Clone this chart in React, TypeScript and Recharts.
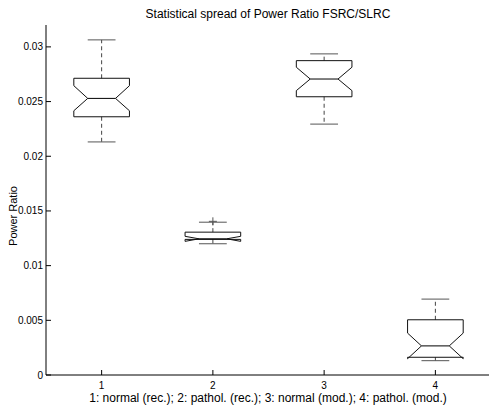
import React from 'react';
import { ComposedChart, Line, Scatter, XAxis, YAxis } from 'recharts';

const categories = [1, 2, 3, 4];
const upperWhisker = [0.03064, 0.01397, 0.02936, 0.00694];
const q3 = [0.02713, 0.01306, 0.02874, 0.00505];
const notchHi = [0.02645, 0.01268, 0.02814, 0.00383];
const median = [0.02529, 0.01245, 0.02706, 0.00266];
const notchLo = [0.02416, 0.01222, 0.02600, 0.00149];
const q1 = [0.02361, 0.01240, 0.02544, 0.00162];
const lowerWhisker = [0.02131, 0.01200, 0.02294, 0.00131];
const outliers = [{ x: 2, y: 0.01405 }];

const yTicks = [0, 0.005, 0.01, 0.015, 0.02, 0.025, 0.03];
const xTicks = [1, 2, 3, 4];

const HALF = 0.25;
const INNER = 0.125;
const CAP = 0.125;

type Pt = { x: number; y: number | null };

const boxes: Pt[] = [];
const medians: Pt[] = [];
const whiskers: Pt[] = [];
const caps: Pt[] = [];
categories.forEach((c, i) => {
    const l = c - HALF, r = c + HALF;
    boxes.push(
        { x: l, y: q1[i] }, { x: l, y: notchLo[i] }, { x: c - INNER, y: median[i] },
        { x: l, y: notchHi[i] }, { x: l, y: q3[i] }, { x: r, y: q3[i] },
        { x: r, y: notchHi[i] }, { x: c + INNER, y: median[i] }, { x: r, y: notchLo[i] },
        { x: r, y: q1[i] }, { x: l, y: q1[i] }, { x: c, y: null },
    );
    medians.push({ x: c - INNER, y: median[i] }, { x: c + INNER, y: median[i] }, { x: c, y: null });
    whiskers.push(
        { x: c, y: q3[i] }, { x: c, y: upperWhisker[i] }, { x: c, y: null },
        { x: c, y: q1[i] }, { x: c, y: lowerWhisker[i] }, { x: c, y: null },
    );
    caps.push(
        { x: c - CAP, y: upperWhisker[i] }, { x: c + CAP, y: upperWhisker[i] }, { x: c, y: null },
        { x: c - CAP, y: lowerWhisker[i] }, { x: c + CAP, y: lowerWhisker[i] }, { x: c, y: null },
    );
});

const FONT = '"Liberation Sans", Arial, sans-serif';

function LeftTick(props: any) {
    const { x, y, payload } = props;
    return (
        <g>
            <line x1={x} x2={x + 5} y1={y} y2={y} stroke="#000" />
            <text x={x - 3} y={y} textAnchor="end" dominantBaseline="central" fontSize={10} fontFamily={FONT} fill="#000">
                {payload.value}
            </text>
        </g>
    );
}

function BottomTick(props: any) {
    const { x, y, payload } = props;
    return (
        <g>
            <line x1={x} x2={x} y1={y} y2={y - 5} stroke="#000" />
            <text x={x} y={y + 10} textAnchor="middle" dominantBaseline="central" fontSize={10} fontFamily={FONT} fill="#000">
                {payload.value}
            </text>
        </g>
    );
}

function TopTick(props: any) {
    const { x, y } = props;
    return <line x1={x} x2={x} y1={y} y2={y + 5} stroke="#000" />;
}

function RightTick(props: any) {
    const { x, y } = props;
    return <line x1={x} x2={x - 5} y1={y} y2={y} stroke="#000" />;
}

function Plus(props: any) {
    const { cx, cy } = props;
    return (
        <g stroke="#555">
            <line x1={cx - 4} x2={cx + 4} y1={cy} y2={cy} />
            <line x1={cx} x2={cx} y1={cy - 4} y2={cy + 4} />
        </g>
    );
}

export default function App() {
    return (
        <div style={{ position: 'absolute', left: 0, top: 0, width: 489, height: 405, overflow: 'hidden', background: '#fff' }}>
            <ComposedChart width={491} height={405} margin={{ top: 25, right: 0, bottom: 0, left: 0 }}>
                <XAxis xAxisId={0} type="number" dataKey="x" domain={[0.5, 4.5]} ticks={xTicks} allowDataOverflow
                    height={30} tickSize={0} tickMargin={0} tick={<BottomTick />} axisLine={{ stroke: '#000' }} />
                <XAxis xAxisId="top" orientation="top" type="number" dataKey="x" domain={[0.5, 4.5]} ticks={xTicks} allowDataOverflow
                    height={0} tickSize={0} tickMargin={0} tick={<TopTick />} axisLine={{ stroke: '#000' }} />
                <YAxis yAxisId={0} type="number" domain={[0, 0.032]} ticks={yTicks} allowDataOverflow
                    width={46} tickSize={0} tickMargin={0} tick={<LeftTick />} axisLine={{ stroke: '#000' }} />
                <YAxis yAxisId="right" orientation="right" type="number" domain={[0, 0.032]} ticks={yTicks} allowDataOverflow
                    width={0} tickSize={0} tickMargin={0} tick={<RightTick />} axisLine={{ stroke: '#000' }} />
                <Line data={whiskers} dataKey="y" stroke="#444" strokeDasharray="4 3" strokeWidth={1} dot={false} activeDot={false} isAnimationActive={false} type="linear" />
                <Line data={caps} dataKey="y" stroke="#555" strokeWidth={1} dot={false} activeDot={false} isAnimationActive={false} type="linear" />
                <Line data={boxes} dataKey="y" stroke="#111" strokeWidth={1} dot={false} activeDot={false} isAnimationActive={false} type="linear" />
                <Line data={medians} dataKey="y" stroke="#000" strokeWidth={1} dot={false} activeDot={false} isAnimationActive={false} type="linear" />
                <Scatter data={outliers} dataKey="y" shape={<Plus />} isAnimationActive={false} />
            </ComposedChart>
            <svg width={489} height={405} style={{ position: 'absolute', left: 0, top: 0, pointerEvents: 'none' }}>
                <text x={268} y={14} textAnchor="middle" dominantBaseline="central" fontSize={12} fontFamily={FONT} fill="#000">
                    Statistical spread of Power Ratio FSRC/SLRC
                </text>
                <text x={13} y={216} textAnchor="middle" dominantBaseline="central" fontSize={11} fontFamily={FONT} fill="#000"
                    transform="rotate(-90 13 216)">
                    Power Ratio
                </text>
                <text x={268} y={397.5} textAnchor="middle" dominantBaseline="central" fontSize={12} fontFamily={FONT} fill="#000">
                    1: normal (rec.); 2: pathol. (rec.); 3: normal (mod.); 4: pathol. (mod.)
                </text>
            </svg>
        </div>
    );
}
